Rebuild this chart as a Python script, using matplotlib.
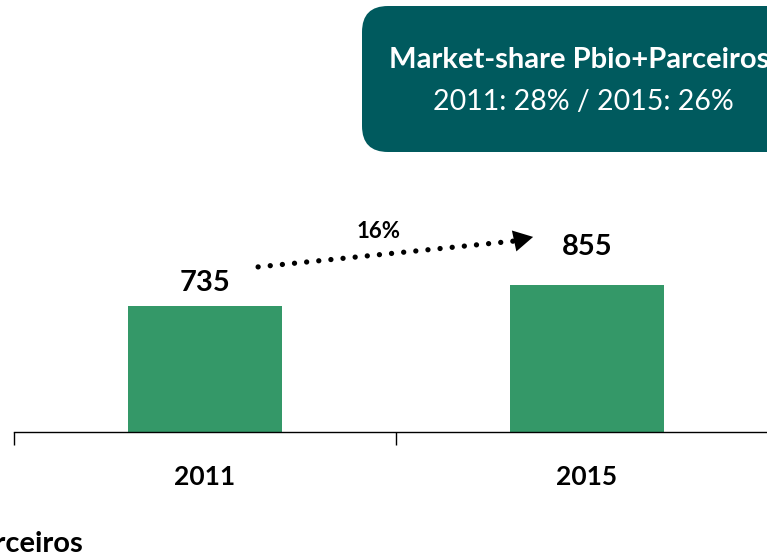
import matplotlib
matplotlib.use("Agg")
import matplotlib.pyplot as plt
from matplotlib.patches import FancyBboxPatch
from matplotlib.transforms import IdentityTransform

# ---- data ----
categories = ["2011", "2015"]
values = [735, 855]
growth_label = "16%"
box_title = "Market-share Pbio+Parceiros"
box_sub = "2011: 28% / 2015: 26%"
legend_text = "Pbio+Parceiros"

BAR_COLOR = "#349868"
BOX_COLOR = "#005A5E"
FONT = ["Lato", "DejaVu Sans"]

W, H = 767, 558
fig = plt.figure(figsize=(W / 100, H / 100), dpi=100)
plt.rcParams['font.family'] = FONT

# axes: left at 14px, category width 382px, baseline at y=432px
ax = fig.add_axes([14 / W, (H - 432) / H, 764 / W, 432 / H])
ax.set_xlim(-0.5, 1.5)
ax.set_ylim(0, 432 / (126 / 735))
x = list(range(len(categories)))
ax.bar(x, values, width=0.403, color=BAR_COLOR, zorder=2)

for s in ["top", "right", "left"]:
    ax.spines[s].set_visible(False)
ax.spines["bottom"].set_linewidth(1.0)
ax.set_yticks([])
ax.set_xticks([-0.5, 0.5, 1.5])
ax.set_xticklabels([])
ax.tick_params(axis="x", which="major", length=9, width=1.0, direction="out")
ax.set_xticks(x, minor=True)
ax.set_xticklabels(categories, minor=True, fontsize=19, fontweight="bold")
ax.tick_params(axis="x", which="minor", length=0, pad=24)

# value labels
offsets = [7, 18]
for xi, v, off in zip(x, values, offsets):
    ax.annotate(f"{v}", (xi, v), xytext=(0, off), textcoords="offset points",
                ha="center", va="bottom", fontsize=21, fontweight="bold")

# dotted growth arrow
x0, y0 = 0.139, 963
xb, yb = 0.81, 1114
xt, yt = 0.859, 1138
ax.plot([x0, xb], [y0, yb], color="black", lw=3.8,
        linestyle=(0, (0.01, 2.3)), dash_capstyle="round", zorder=3)
ax.annotate("", xy=(xt, yt), xytext=(xb - 0.01, yb - 4),
            arrowprops=dict(arrowstyle="-|>,head_length=1.0,head_width=0.55",
                            lw=0, color="black", mutation_scale=14,
                            shrinkA=0, shrinkB=0), zorder=3)
ax.text(0.453, 1167, growth_label, ha="center", va="center",
        fontsize=16, fontweight="bold")

# market-share box (display pixels)
box = FancyBboxPatch((362, H - 152), 460, 146,
                     boxstyle="round,pad=0,rounding_size=26",
                     transform=IdentityTransform(), facecolor=BOX_COLOR,
                     edgecolor="none")
fig.add_artist(box)
fig.text(579 / W, (H - 68) / H, box_title, ha="center", va="baseline",
         color="white", fontsize=21, fontweight="bold")
fig.text(583 / W, (H - 110) / H, box_sub, ha="center", va="baseline",
         color="white", fontsize=20.5)

# clipped legend text at bottom-left
fig.text(83 / W, (H - 552) / H, legend_text, ha="right", va="baseline",
         fontsize=21, fontweight="bold")

fig.savefig("out.png", dpi=100)
